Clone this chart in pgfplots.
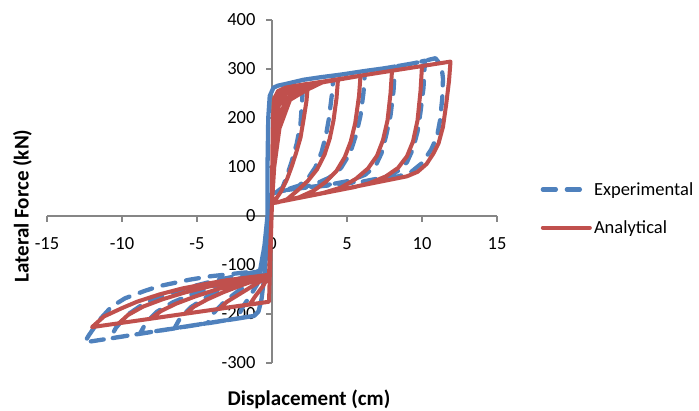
\documentclass[border=0pt]{standalone}
\usepackage{fontspec}
\setmainfont{Carlito}
\usepackage{pgfplots}
\pgfplotsset{compat=1.18}
\definecolor{expblue}{HTML}{4F81BD}
\definecolor{anared}{HTML}{C0504D}
\definecolor{axgray}{HTML}{868686}
\begin{document}
\begin{tikzpicture}
\path[use as bounding box] (0,0) rectangle (699pt,411pt);
\begin{axis}[
  at={(47pt,48pt)}, anchor=south west,
  scale only axis, width=450pt, height=343pt,
  xmin=-15, xmax=15, ymin=-300, ymax=400,
  axis lines=middle,
  axis line style={axgray, line width=1.2pt, -},
  xtick={-15,-10,-5,0,5,10,15},
  xticklabels={-15,-10,-5,0,5,10,15},
  ytick={-300,-200,-100,0,100,200,300,400},
  yticklabels={-300,-200,-100,0,100,200,300,400},
  hide obscured x ticks=false, hide obscured y ticks=false,
  tick align=outside, major tick length=6pt,
  tick style={axgray, line width=1.2pt},
  ticklabel style={font=\fontsize{18.5}{22}\selectfont, text=black},
  xticklabel style={anchor=north, yshift=-12pt},
  yticklabel style={anchor=east, xshift=-7pt},
  axis on top=false,
  clip=false,
  legend style={at={(axis description cs:1.09,0.45)}, anchor=west, draw=none, fill=none,
    font=\fontsize{18.5}{22}\selectfont, row sep=20pt, legend cell align=left,
    nodes={inner sep=2pt}},
  legend image code/.code={\draw[#1] (0pt,0pt) -- (47pt,0pt);},
]
% Experimental (blue dashed)
\addplot[expblue, line width=4.3pt, line cap=round, line join=round, dash pattern=on 13pt off 11pt] coordinates {
(-0.3,0) (-0.3,100) (-0.25,200) (-0.15,245) (0.1,262) (0.4,266) (1.0,270) (2.1,278)
(2.0,232) (1.9,188) (1.65,148) (1.3,110) (0.95,78) (0.7,58) (0.3,49) (0,46)
(-0.2,10) (-0.35,-60) (-0.5,-120) (-0.7,-170) (-0.9,-195) (-1.2,-204) (-2.3,-209)
(-2.0,-188) (-1.5,-165) (-1.0,-140) (-0.8,-125) (-0.5,-60) (-0.3,0)
(-0.3,100) (-0.25,200) (-0.15,245) (0.1,262) (0.4,266) (1.0,270) (2.1,278) (3.2,283) (4.1,286)
(4.0,250) (3.8,200) (3.6,165) (3.3,130) (2.9,100) (2.4,77) (1.8,62) (1.0,54) (0.3,48) (0,46)
(-0.2,10) (-0.35,-60) (-0.5,-120) (-0.7,-170) (-0.9,-195) (-1.2,-204) (-4.3,-219)
(-3.9,-198) (-3.2,-176) (-2.3,-154) (-1.4,-135) (-0.8,-120) (-0.5,-60) (-0.3,0)
(-0.3,100) (-0.25,200) (-0.15,245) (0.1,262) (0.4,266) (1.0,270) (2.1,278) (3.2,283) (4.7,289) (6.2,296)
(6.1,252) (5.9,205) (5.6,165) (5.2,128) (4.6,98) (3.8,78) (2.8,64) (1.5,56) (0.5,50) (0,46)
(-0.2,10) (-0.35,-60) (-0.5,-120) (-0.7,-170) (-0.9,-195) (-1.2,-204) (-6.5,-229)
(-6.1,-207) (-5.4,-186) (-4.4,-166) (-3.1,-147) (-1.8,-130) (-0.8,-115) (-0.5,-60) (-0.3,0)
(-0.3,100) (-0.25,200) (-0.15,245) (0.1,262) (0.4,266) (1.0,270) (2.1,278) (3.2,283) (4.7,289) (6.2,296) (7.4,301) (8.2,305)
(8.1,255) (7.9,205) (7.6,163) (7.3,128) (6.9,102) (6.2,84) (5.2,72) (4.0,65) (2,57) (0.7,52) (0,46)
(-0.2,10) (-0.35,-60) (-0.5,-120) (-0.7,-170) (-0.9,-195) (-1.2,-204) (-8.8,-240)
(-8.4,-218) (-7.7,-196) (-6.6,-176) (-5.2,-158) (-3.6,-141) (-2,-126) (-0.8,-113) (-0.5,-60) (-0.3,0)
(-0.3,100) (-0.25,200) (-0.15,245) (0.1,262) (0.4,266) (1.0,270) (2.1,278) (3.2,283) (4.7,289) (6.2,296) (7.4,301) (8.2,305) (9.5,312) (10.2,317)
(10.1,262) (9.9,212) (9.7,172) (9.4,137) (9.0,110) (8.4,92) (7.5,79) (6,70) (4,63) (2,57) (0.7,52) (0,46)
(-0.2,10) (-0.35,-60) (-0.5,-120) (-0.7,-170) (-0.9,-195) (-1.2,-204) (-10.8,-250)
(-10.4,-228) (-9.7,-203) (-8.7,-182) (-7.3,-163) (-5.6,-146) (-3.8,-132) (-2,-120) (-0.8,-112) (-0.5,-60) (-0.3,0)
(-0.3,100) (-0.25,200) (-0.15,245) (0.1,262) (0.4,266) (1.0,270) (2.1,278) (3.2,283) (4.7,289) (6.2,296) (7.4,301) (8.2,305) (9.5,312) (10.2,317) (10.9,322)
(11.3,306) (11.4,280) (11.35,240) (11.2,195) (11.0,162) (10.6,135) (10.0,108) (9.2,88) (8.3,80) (7.2,74) (4.3,66) (2,57) (0.7,52) (0,46)
(-0.2,10) (-0.35,-60) (-0.5,-120) (-0.7,-170) (-0.9,-195) (-1.2,-204) (-12.5,-258)
(-12.2,-243) (-11.5,-212) (-10.7,-185) (-9.8,-168) (-8.5,-153) (-7.5,-143) (-5.5,-130) (-4.1,-123) (-2,-116) (-0.8,-112) (-0.5,-60) (-0.3,0)
};
\addlegendentry{Experimental}
% Analytical (red solid)
\addplot[anared, line width=4pt, line cap=round, line join=round] coordinates {
(0,26) (0.02,120) (0.06,200) (0.15,240) (0.4,255) (0.9,262) (2.4,270)
(2.3,235) (2.1,196) (1.9,160) (1.6,128) (1.3,100) (1.0,75) (0.6,50) (0.25,34) (0,27)
(-0.2,-175) (-1.5,-181) (-1.1,-163) (-0.6,-143) (-0.2,-122) (0,26)
(0.04,110) (0.12,190) (0.3,235) (0.7,255) (1.4,265) (4.4,279)
(4.3,240) (4.1,195) (3.85,158) (3.5,125) (3.0,95) (2.4,72) (1.7,52) (1.0,34) (0.4,28) (0,26)
(-0.2,-175) (-3.5,-189) (-3.0,-175) (-2.2,-160) (-1.3,-143) (-0.6,-130) (-0.2,-120) (0,26)
(0.07,100) (0.2,175) (0.45,225) (0.9,250) (1.7,264) (5.9,286)
(5.8,245) (5.55,190) (5.25,152) (4.85,120) (4.3,92) (3.6,70) (2.8,52) (1.8,38) (0.8,31) (0,26)
(-0.2,-175) (-5.8,-199.5) (-5.2,-185) (-4.3,-170) (-3.2,-155) (-2.0,-141) (-1,-130) (-0.2,-120) (0,26)
(0.1,95) (0.3,165) (0.65,215) (1.1,243) (1.9,261) (3,272.4) (8,296.4)
(7.9,250) (7.7,195) (7.4,155) (7.0,123) (6.4,97) (5.6,76) (4.6,58) (3.4,47) (0,26)
(-0.2,-175) (-8.1,-209.6) (-7.4,-194) (-6.4,-179) (-5.1,-164) (-3.7,-150) (-2.3,-138) (-1.1,-127) (-0.2,-120) (0,26)
(0.1,110) (0.38,185) (0.9,237) (1.8,258) (3.0,272.4) (10,306)
(9.9,255) (9.7,195) (9.4,152) (9.0,122) (8.4,98) (7.6,81) (6.5,67) (5.5,59) (0,26)
(-0.2,-175) (-10.2,-218.9) (-9.6,-202) (-8.6,-185) (-7.3,-170) (-5.8,-156) (-4.2,-144) (-2.6,-133) (-1.2,-125) (-0.2,-120) (0,26)
(0.15,100) (0.5,179) (1.2,237) (2.3,257) (3.5,274.8) (11.9,315.1)
(11.8,275) (11.6,225) (11.4,182) (11.1,148) (10.75,127) (10.3,106) (9.7,90) (9.0,81) (8.2,76) (0,26)
(-0.2,-175) (-12,-226.8) (-11.2,-205) (-10,-188) (-9,-175) (-7.5,-160) (-6,-148) (-4.5,-139) (-3,-131) (-1.5,-125) (-0.2,-120) (0,26)
};
\addlegendentry{Analytical}
\end{axis}
\node[font=\fontsize{21}{25}\selectfont\bfseries, rotate=90, anchor=base] at (28.5pt,205pt) {Lateral Force (kN)};
\node[font=\fontsize{21}{25}\selectfont\bfseries, anchor=base] at (309pt,5pt) {Displacement (cm)};
\end{tikzpicture}
\end{document}
